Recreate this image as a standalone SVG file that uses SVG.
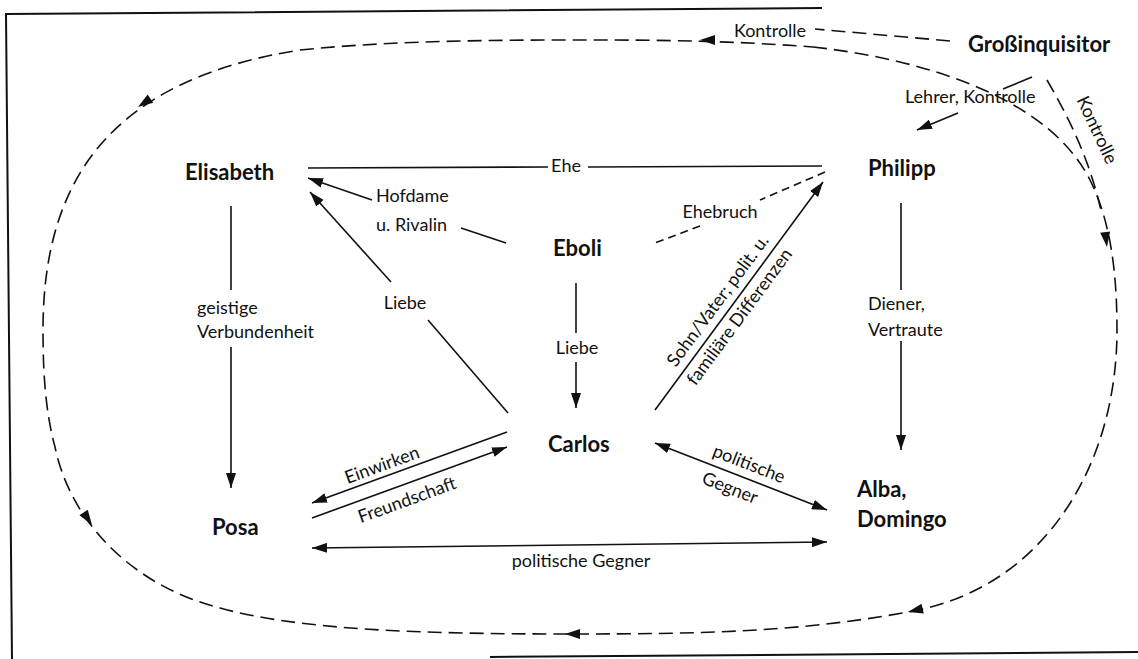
<svg xmlns="http://www.w3.org/2000/svg" width="1138" height="659" viewBox="0 0 1138 659">
<style>
.name{font-family:Lato,"Open Sans","Liberation Sans",sans-serif;font-weight:700;font-size:22px;fill:#111}
.lbl{font-family:Lato,"Open Sans","Liberation Sans",sans-serif;font-size:18px;fill:#111}
.mid{text-anchor:middle}
.ln{fill:none;stroke:#111;stroke-width:1.6}
.dash{fill:none;stroke:#111;stroke-width:1.6;stroke-dasharray:14 7}
.sdash{fill:none;stroke:#111;stroke-width:1.6;stroke-dasharray:8 5}
.frame{fill:none;stroke:#111;stroke-width:2}
</style>
<defs>
<marker id="ah" viewBox="0 0 15 10" refX="15" refY="5" markerWidth="15" markerHeight="10" markerUnits="userSpaceOnUse" orient="auto-start-reverse">
<path d="M0,0 L15,5 L0,10 z" fill="#111"/>
</marker>
<path id="head" d="M0,0 L-15,-5 L-15,5 z" fill="#111"/>
</defs>
<rect width="1138" height="659" fill="#fff"/>
<g id="frame">
<path class="frame" d="M822,8 L6,14 L12,659"/>
<path class="frame" d="M490,657 L1138,652"/>
</g>
<g id="connectors">
<path class="dash" d="M813,47 C930,60 1050,100 1090,180 C1110,220 1117,270 1117,330 C1117,470 1040,590 908,612 C800,632 700,634 571,634 C420,634 300,630 220,608 C130,585 70,520 55,447 C45,410 43,370 43,330 C43,180 110,80 300,50 C400,40 500,40 600,40 C700,40 760,43 813,47"/>
<use href="#head" transform="translate(700 40) rotate(180)"/>
<use href="#head" transform="translate(138 107) rotate(146)"/>
<use href="#head" transform="translate(92 525) rotate(56)"/>
<use href="#head" transform="translate(565 634) rotate(180)"/>
<use href="#head" transform="translate(908 612) rotate(167)"/>
<use href="#head" transform="translate(1107 247) rotate(83)"/>
<path class="dash" d="M950,41 L815,29"/>
<path class="dash" d="M1047,80 C1070,120 1090,160 1102,215"/>
<path class="ln" d="M1032,77 L1003,89"/>
<path class="ln" marker-end="url(#ah)" d="M958,113 L917,130"/>
<path class="ln" d="M308,168 L548,167"/>
<path class="ln" d="M588,167 L822,166"/>
<path class="sdash" d="M825,172 L760,200"/>
<path class="sdash" d="M700,226 L655,243"/>
<path class="ln" marker-end="url(#ah)" d="M372,200 L308,178"/>
<path class="ln" d="M461,228 L506,243"/>
<path class="ln" marker-end="url(#ah)" d="M391,282 L310,192"/>
<path class="ln" d="M428,320 L508,413"/>
<path class="ln" d="M576,283 L576,333"/>
<path class="ln" marker-end="url(#ah)" d="M576,362 L576,408"/>
<path class="ln" d="M231,206 L231,290"/>
<path class="ln" marker-end="url(#ah)" d="M231,347 L231,488"/>
<path class="ln" d="M901,203 L901,290"/>
<path class="ln" marker-end="url(#ah)" d="M901,341 L901,450"/>
<path class="ln" marker-end="url(#ah)" d="M655,410 L823,182"/>
<path class="ln" marker-end="url(#ah)" d="M507,432 L312,503"/>
<path class="ln" marker-end="url(#ah)" d="M312,518 L507,447"/>
<path class="ln" marker-start="url(#ah)" marker-end="url(#ah)" d="M655,443 L827,510"/>
<path class="ln" marker-start="url(#ah)" marker-end="url(#ah)" d="M312,548 L827,542"/>
</g>
<g id="labels">
<text class="lbl mid" x="770" y="37">Kontrolle</text>
<text class="lbl mid" transform="translate(1097 130) rotate(65)" y="6">Kontrolle</text>
<text class="lbl" x="905" y="103">Lehrer, Kontrolle</text>
<text class="lbl mid" x="566" y="172">Ehe</text>
<text class="lbl mid" x="720" y="218">Ehebruch</text>
<text class="lbl" x="376" y="202">Hofdame</text>
<text class="lbl" x="376" y="231">u. Rivalin</text>
<text class="lbl mid" x="405" y="309">Liebe</text>
<text class="lbl mid" x="577" y="354">Liebe</text>
<text class="lbl" x="197" y="314">geistige</text>
<text class="lbl" x="197" y="338">Verbundenheit</text>
<text class="lbl" x="868" y="310">Diener,</text>
<text class="lbl" x="868" y="336">Vertraute</text>
<text class="lbl mid" transform="translate(729 309) rotate(-53.6)" y="-8">Sohn/Vater; polit. u.</text>
<text class="lbl mid" transform="translate(729 309) rotate(-53.6)" y="19">familiäre Differenzen</text>
<text class="lbl mid" transform="translate(382 465) rotate(-20)" y="6">Einwirken</text>
<text class="lbl mid" transform="translate(407 500) rotate(-20)" y="6">Freundschaft</text>
<text class="lbl mid" transform="translate(749 464) rotate(21.3)" y="6">politische</text>
<text class="lbl mid" transform="translate(730 488) rotate(21.3)" y="6">Gegner</text>
<text class="lbl mid" x="581" y="567">politische Gegner</text>
</g>
<g id="grossinquisitor"><text class="name" x="968" y="52">Großinquisitor</text></g>
<g id="philipp"><text class="name" x="868" y="176">Philipp</text></g>
<g id="elisabeth"><text class="name" x="185" y="180">Elisabeth</text></g>
<g id="eboli"><text class="name" x="553" y="256">Eboli</text></g>
<g id="carlos"><text class="name" x="548" y="452">Carlos</text></g>
<g id="posa"><text class="name" x="212" y="535">Posa</text></g>
<g id="alba"><text class="name" x="857" y="497">Alba,<tspan x="857" y="527">Domingo</tspan></text></g>
</svg>
